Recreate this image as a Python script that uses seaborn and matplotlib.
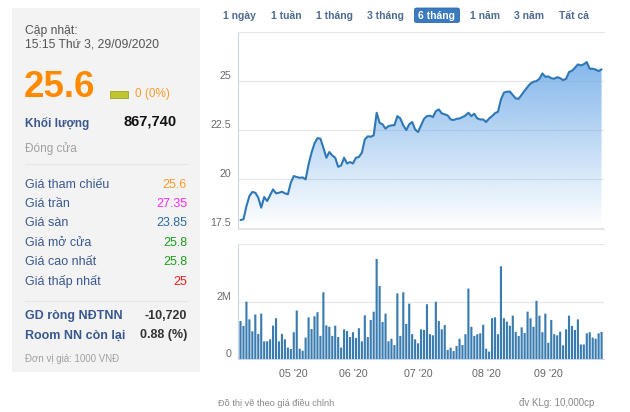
import numpy as np
import pandas as pd
import matplotlib
matplotlib.use("Agg")
import matplotlib.pyplot as plt
from matplotlib.patches import Rectangle, FancyBboxPatch
from matplotlib.colors import to_rgb
import seaborn as sns

# ---------------- data ----------------
trade_start = "2020-04-06"
trade_end = "2020-09-29"
market_holidays = ["2020-04-30", "2020-05-01", "2020-09-02", "2020-09-03"]

price = [17.93, 17.97, 18.64, 19.15, 19.36, 19.32, 19.07, 18.56, 19.10, 18.90,
         19.19, 19.49, 19.29, 19.32, 19.37, 19.29, 19.24, 19.83, 20.17, 20.12,
         20.08, 20.10, 20.00, 20.76, 21.36, 21.83, 22.10, 22.07, 21.61, 21.10,
         21.39, 21.22, 21.10, 20.64, 20.71, 21.10, 20.81, 20.88, 20.81, 21.10,
         21.14, 21.36, 22.03, 22.19, 22.17, 22.24, 23.39, 22.88, 22.80, 22.58,
         22.71, 22.75, 22.76, 23.22, 23.10, 22.75, 22.51, 22.80, 22.92, 22.54,
         22.41, 22.75, 23.08,
         23.22, 23.24, 23.17, 23.47, 23.56, 23.36, 23.31, 23.25, 23.05, 23.02,
         23.08, 23.10, 23.17, 23.25, 23.39, 23.22, 23.34, 23.10, 23.05, 23.05,
         22.92, 23.10, 23.22, 23.37, 23.44, 24.07, 24.41, 24.46, 24.47, 24.29,
         24.12, 24.10, 24.31, 24.51, 24.71, 24.88, 24.97, 25.00, 25.12, 25.39,
         25.22, 25.24, 25.15, 25.12, 25.20, 25.15, 25.05, 25.12, 25.46, 25.53,
         25.68, 25.85, 25.80, 25.86, 25.97, 25.63, 25.63, 25.59, 25.51, 25.60]

volume_m = [1.33, 1.16, 2.01, 1.39, 0.97, 1.56, 0.88, 1.59, 0.62, 0.62,
            0.69, 1.17, 1.43, 0.62, 0.88, 0.69, 0.40, 0.35, 0.94, 1.70,
            0.36, 0.29, 0.75, 1.46, 1.05, 1.50, 1.64, 0.81, 2.34, 1.18,
            1.13, 0.81, 1.17, 0.77, 0.40, 1.04, 0.98, 0.77, 0.94, 0.74,
            1.08, 0.62, 1.53, 0.77, 1.37, 1.66, 3.51, 2.56, 1.30, 1.59,
            0.62, 0.71, 0.49, 2.30, 0.81, 2.34, 1.23, 1.94, 0.87, 0.69,
            0.55, 1.04, 1.02,
            1.92, 0.87, 0.83, 2.01, 1.33, 1.04, 1.19, 0.32, 0.40, 0.28,
            0.46, 0.71, 0.49, 0.87, 2.47, 1.13, 0.81, 0.87, 0.90, 1.20,
            0.36, 0.26, 1.43, 1.46, 0.87, 3.25, 1.43, 1.31, 1.17, 1.52,
            0.95, 0.81, 1.11, 0.91, 1.66, 1.43, 1.13, 2.04, 1.52, 0.94,
            1.59, 0.57, 1.37, 0.87, 0.83, 0.96, 0.48, 1.04, 1.52, 1.16,
            1.02, 1.39, 0.51, 0.51, 0.90, 0.94, 0.75, 0.71, 0.90, 0.95]

price_ticks = [17.5, 20, 22.5, 25]
price_tick_labels = ["17.5", "20", "22.5", "25"]
vol_ticks = [0, 2_000_000]
vol_tick_labels = ["0", "2M"]

range_buttons = ["1 ngày", "1 tuần", "1 tháng", "3 tháng", "6 tháng", "1 năm", "3 năm", "Tất cả"]
active_button = "6 tháng"

info_labels = ["Giá tham chiếu", "Giá trần", "Giá sàn", "Giá mở cửa", "Giá cao nhất", "Giá thấp nhất"]
info_values = ["25.6", "27.35", "23.85", "25.8", "25.8", "25"]
info_colors = ["#ff9a2a", "#ff2cff", "#2b6a9e", "#1e9e1e", "#1e9e1e", "#ee1c1c"]

foreign_labels = ["GD ròng NĐTNN", "Room NN còn lại"]
foreign_values = ["-10,720", "0.88 (%)"]

# ---------------- derived ----------------
dates = pd.bdate_range(trade_start, trade_end, freq="C", holidays=market_holidays)
df = pd.DataFrame({"date": dates, "price": price, "volume": np.array(volume_m) * 1e6})
df["i"] = np.arange(len(df))
month_first = df.groupby(df["date"].dt.to_period("M"))["i"].min().iloc[1:]
month_pos = list(month_first.values)
month_lab = [df.loc[k, "date"].strftime("%m '%y") for k in month_pos]

# ---------------- style ----------------
sns.set_style("white")
plt.rcParams["font.family"] = ["Liberation Sans", "DejaVu Sans"]

W, H = 630, 412
fig = plt.figure(figsize=(W / 100, H / 100), dpi=100)
fig.patch.set_facecolor("white")


def fx(px):
    return px / W


def fy(py):
    return 1 - py / H


# left info panel background
fig.patches.append(Rectangle((fx(12), fy(372)), (200 - 12) / W, (372 - 8) / H,
                             transform=fig.transFigure, facecolor="#f3f3f3",
                             edgecolor="none", zorder=0))

lab_blue = "#3a5890"
fig.text(fx(25), fy(34.3), "Cập nhật:", fontsize=8.7, color="#555555", va="baseline")
fig.text(fx(25), fy(47.7), "15:15 Thứ 3, 29/09/2020", fontsize=8.7, color="#555555", va="baseline")
fig.text(fx(24), fy(96.7), "25.6", fontsize=26.5, fontweight="bold", color="#ff8a00", va="baseline")
fig.patches.append(Rectangle((fx(110), fy(97.5)), 18 / W, 7 / H, transform=fig.transFigure,
                             facecolor="#bfc52e", edgecolor="#9da51c", lw=0.6, zorder=2))
fig.text(fx(135), fy(97.5), "0 (0%)", fontsize=8.5, color="#ff9a2a", va="baseline")
fig.text(fx(25), fy(126.5), "Khối lượng", fontsize=8.5, fontweight="bold", color=lab_blue, va="baseline")
fig.text(fx(177), fy(126), "867,740", fontsize=10.5, fontweight="bold", color="#111111",
         va="baseline", ha="right")
fig.text(fx(25), fy(151.7), "Đóng cửa", fontsize=8.5, color="#a0a0a0", va="baseline")
fig.add_artist(plt.Line2D([fx(25), fx(188)], [fy(164), fy(164)], transform=fig.transFigure,
                          color="#e6e6e6", lw=0.8))
for k, (lab, val, col) in enumerate(zip(info_labels, info_values, info_colors)):
    yb = 187.7 + k * 19.4
    fig.text(fx(25), fy(yb), lab, fontsize=9, color=lab_blue, va="baseline")
    fig.text(fx(187), fy(yb), val, fontsize=9, color=col, va="baseline", ha="right")
fig.add_artist(plt.Line2D([fx(25), fx(188)], [fy(300.5), fy(300.5)], transform=fig.transFigure,
                          color="#e6e6e6", lw=0.8))
for k, (lab, val) in enumerate(zip(foreign_labels, foreign_values)):
    yb = 319.3 + k * 19
    fig.text(fx(25), fy(yb), lab, fontsize=9, fontweight="bold", color=lab_blue, va="baseline")
    fig.text(fx(187), fy(yb), val, fontsize=9, fontweight="bold", color="#333333",
             va="baseline", ha="right")
fig.text(fx(25), fy(362.3), "Đơn vị giá: 1000 VNĐ", fontsize=7, color="#a0a0a0", va="baseline")

# range buttons
btn_x = [239.7, 286.2, 334.7, 385.3, 436.7, 484.7, 529.2, 574.0]
for name, bx in zip(range_buttons, btn_x):
    if name == active_button:
        fig.patches.append(FancyBboxPatch((fx(414.5), fy(22.5)), (459.5 - 414.5) / W, 14.5 / H,
                                          boxstyle="round,pad=0,rounding_size=0.004",
                                          transform=fig.transFigure, facecolor="#3a7ac0",
                                          edgecolor="#2f6aad", lw=0.6, zorder=1))
        fig.text(fx(bx), fy(18.7), name, fontsize=7.5, fontweight="bold", color="white",
                 ha="center", va="baseline", zorder=3)
    else:
        fig.text(fx(bx), fy(18.7), name, fontsize=7.5, fontweight="bold", color="#4d6b91",
                 ha="center", va="baseline")

# ---------------- price chart ----------------
x0 = -0.85
x1 = len(df) - 1 + 0.65
ax1 = fig.add_axes([fx(238), fy(228.5), 365.5 / W, 196.5 / H])
ax1.set_facecolor("none")

poly = ax1.fill_between(df["i"], df["price"], price_ticks[0], facecolor="none", edgecolor="none")
grad = np.zeros((256, 1, 4))
grad[:, 0, :3] = to_rgb("#6eaae8")
grad[:, 0, 3] = np.linspace(1.0, 0.0, 256)
im = ax1.imshow(grad, extent=[x0, x1, 17.5, 27.5], aspect="auto", origin="upper", zorder=1,
                interpolation="bilinear")
im.set_clip_path(poly.get_paths()[0], transform=ax1.transData)
sns.lineplot(data=df, x="i", y="price", ax=ax1, color="#2f78b6", linewidth=1.5, zorder=3)

ax1.set_xlim(x0, x1)
ax1.set_ylim(17.5, 27.5)
ax1.set_yticks(price_ticks, labels=price_tick_labels)
ax1.set_xticks([])
ax1.set_xlabel("")
ax1.set_ylabel("")
ax1.yaxis.grid(True, color="#e6e6e6", lw=0.8)
ax1.set_axisbelow(True)
ax1.tick_params(axis="y", length=0, pad=5, labelsize=7.7, labelcolor="#6b6b6b")
for t in ax1.get_yticklabels():
    t.set_va("bottom")
for s in ["top", "bottom"]:
    ax1.spines[s].set_color("#e6e6e6")
    ax1.spines[s].set_linewidth(0.8)
ax1.spines["left"].set_color("#ccd6eb")
ax1.spines["left"].set_linewidth(0.8)
ax1.spines["right"].set_visible(False)

# ---------------- volume chart ----------------
ax2 = fig.add_axes([fx(238), fy(359), 365.5 / W, 115.5 / H])
ax2.set_facecolor("none")
sns.barplot(data=df, x="i", y="volume", ax=ax2, color="#3a7cb0", saturation=1,
            width=0.72, linewidth=0, zorder=3)
for p in ax2.patches:
    p.set_snap(False)
ax2.set_xlim(x0, x1)
ax2.set_ylim(0, 4.05e6)
ax2.set_yticks(vol_ticks, labels=vol_tick_labels)
ax2.set_xticks(month_pos, labels=month_lab)
ax2.set_xlabel("")
ax2.set_ylabel("")
ax2.yaxis.grid(True, color="#e6e6e6", lw=0.8)
ax2.set_axisbelow(True)
ax2.tick_params(axis="y", length=0, pad=5, labelsize=7.7, labelcolor="#6b6b6b")
ax2.tick_params(axis="x", length=5, width=0.8, color="#ccd6eb", pad=2, labelsize=7.7,
                labelcolor="#666666")
for t in ax2.get_yticklabels():
    t.set_va("bottom")
ax2.spines["top"].set_color("#e6e6e6")
ax2.spines["top"].set_linewidth(0.8)
for s in ["left", "bottom"]:
    ax2.spines[s].set_color("#ccd6eb")
    ax2.spines[s].set_linewidth(0.8)
ax2.spines["right"].set_visible(False)

fig.text(fx(217.5), fy(405.5), "Đồ thị vẽ theo giá điều chỉnh", fontsize=6.6, color="#888888",
         va="baseline")
fig.text(fx(594.5), fy(405.5), "đv KLg: 10,000cp", fontsize=7, color="#888888",
         va="baseline", ha="right")

fig.savefig("out.png", dpi=100)
